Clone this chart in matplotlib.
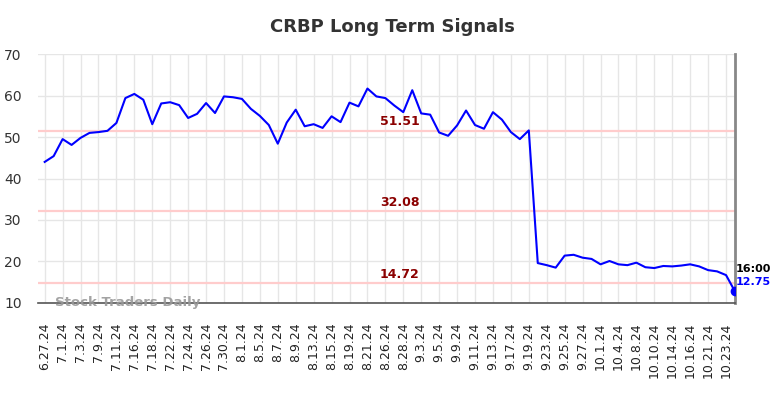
import numpy as np
import matplotlib
matplotlib.use("Agg")
import matplotlib.pyplot as plt

# =======================
# data
# =======================
tick_labels = [
    "6.27.24", "7.1.24", "7.3.24", "7.9.24", "7.11.24", "7.16.24", "7.18.24",
    "7.22.24", "7.24.24", "7.26.24", "7.30.24", "8.1.24", "8.5.24", "8.7.24",
    "8.9.24", "8.13.24", "8.15.24", "8.19.24", "8.21.24", "8.26.24", "8.28.24",
    "9.3.24", "9.5.24", "9.9.24", "9.11.24", "9.13.24", "9.17.24", "9.19.24",
    "9.23.24", "9.25.24", "9.27.24", "10.1.24", "10.4.24", "10.8.24",
    "10.10.24", "10.14.24", "10.16.24", "10.21.24", "10.23.24",
]

prices = [
    44.0, 45.4, 49.5, 48.1, 49.8, 51.0, 51.2, 51.5, 53.4, 59.4,
    60.4, 59.0, 53.1, 58.1, 58.4, 57.7, 54.6, 55.6, 58.2, 55.8,
    59.8, 59.6, 59.2, 56.8, 55.1, 52.9, 48.4, 53.5, 56.6, 52.6,
    53.1, 52.2, 55.0, 53.6, 58.3, 57.4, 61.7, 59.8, 59.4, 57.6,
    56.0, 61.3, 55.7, 55.4, 51.1, 50.3, 52.8, 56.4, 52.9, 52.0,
    56.0, 54.2, 51.2, 49.5, 51.6, 19.6, 19.1, 18.5, 21.4, 21.6,
    20.9, 20.6, 19.3, 20.1, 19.3, 19.1, 19.7, 18.6, 18.4, 18.9,
    18.8, 19.0, 19.3, 18.8, 17.9, 17.6, 16.7, 12.75,
]

signal_levels = [51.51, 32.08, 14.72]
last_time = "16:00"

# =======================
# plot
# =======================
x = np.arange(len(prices))

fig = plt.figure(figsize=(7.84, 3.98), dpi=100)
ax = fig.add_axes([0.049, 0.239, 0.8885, 0.625])

# signal levels + labels in the middle
for lvl in signal_levels:
    ax.axhline(lvl, color="#ffcccc", lw=1.6, zorder=1)
    ax.text(len(prices) / 2 + 0.6, lvl + 0.6, f"{lvl:.2f}", color="#8b0000",
            fontsize=9, fontweight="bold", ha="center", va="bottom", zorder=3)

ax.plot(x, prices, color="#0000ff", lw=1.5, zorder=4)
ax.plot(x[-1], prices[-1], "o", color="#0000ff", ms=6, zorder=5)

# last value annotation
ax.text(x[-1] + 0.1, prices[-1] + 5.5, last_time, fontsize=8, fontweight="bold",
        color="black", ha="left", va="center")
ax.text(x[-1] + 0.1, prices[-1] + 2.4, f"{prices[-1]:.2f}",
        fontsize=8, fontweight="bold", color="#0000ff", ha="left", va="center")

ax.text(1.1, 10, "Stock Traders Daily", fontsize=9.5, fontweight="bold",
        color="#999999", alpha=0.9, ha="left", va="center", zorder=6)

ax.set_xlim(-0.7, len(prices) - 1)
ax.set_ylim(10, 70)
ax.set_yticks(range(10, 71, 10))
ax.set_xticks(x[::2])
ax.set_xticklabels(tick_labels, rotation=90, fontsize=9, color="#222222")
ax.tick_params(axis="x", length=0, pad=14)
ax.tick_params(axis="y", length=0, pad=12, labelsize=10, labelcolor="#333333")

ax.grid(True, color="#e6e6e6", lw=1)
ax.set_axisbelow(True)
for s in ["top", "left"]:
    ax.spines[s].set_visible(False)
ax.spines["bottom"].set_color("#555555")
ax.spines["bottom"].set_linewidth(1.2)
ax.spines["right"].set_color("#888888")
ax.spines["right"].set_linewidth(2)

fig.suptitle("CRBP Long Term Signals", fontsize=13, fontweight="bold",
             color="#333333", y=0.955)

fig.savefig("out.png", dpi=100)
